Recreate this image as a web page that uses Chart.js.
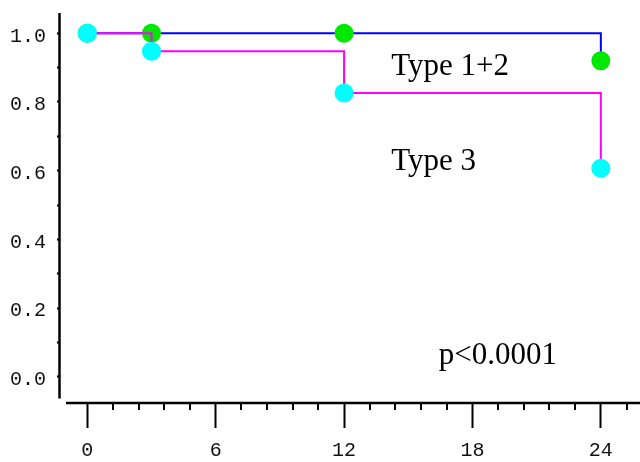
<!DOCTYPE html>
<html><head><meta charset="utf-8">
<script src="https://cdn.jsdelivr.net/npm/chart.js@4/dist/chart.umd.min.js"></script>
<style>html,body{margin:0;padding:0;background:#fff;}canvas{display:block;}</style>
</head><body>
<canvas id="c" width="640" height="462"></canvas>
<script>
// ---- data ----
const months = [0, 3, 12, 24];
const type12 = [1.0, 1.0, 1.0, 0.92];
const type3 = [1.0, 0.948, 0.826, 0.607];
const seriesNames = ['Type 1+2', 'Type 3'];
const pValueText = 'p<0.0001';
const xTickValues = [0, 6, 12, 18, 24];
const xTickLabels = ['0', '6', '12', '18', '24'];
const xMinorTickValues = [1.2, 2.4, 3.6, 4.8, 7.2, 8.4, 9.6, 10.8, 13.2, 14.4, 15.6, 16.8, 19.2, 20.4, 21.6, 22.8, 25.2];
const yTickValues = [0, 0.1, 0.2, 0.3, 0.4, 0.5, 0.6, 0.7, 0.8, 0.9, 1.0];
const yTickLabels = ['0.0', '', '0.2', '', '0.4', '', '0.6', '', '0.8', '', '1.0'];

// ---- annotation placement (data coords) ----
const notes = [
  {text: seriesNames[0], x: 14.2, y: 0.879},
  {text: seriesNames[1], x: 14.2, y: 0.601},
  {text: pValueText, x: 16.42, y: 0.038}
];

const pts = (ys) => months.map((m, i) => ({x: m, y: ys[i]}));

const axesPlugin = {
  id: 'axesPlugin',
  afterDraw(chart) {
    const ctx = chart.ctx, xs = chart.scales.x, ys = chart.scales.y, ca = chart.chartArea;
    ctx.save();
    ctx.strokeStyle = '#000';
    ctx.lineWidth = 2.5;
    ctx.beginPath();
    ctx.moveTo(ca.left - 0.5, ca.top);
    ctx.lineTo(ca.left - 0.5, ca.bottom - 4.5);
    ctx.stroke();
    ctx.lineWidth = 2.5;
    ctx.beginPath();
    ctx.moveTo(ca.left + 6, ca.bottom);
    ctx.lineTo(ca.right, ca.bottom);
    ctx.stroke();
    ctx.lineWidth = 2;
    xMinorTickValues.forEach(v => {
      const px = Math.round(xs.getPixelForValue(v));
      ctx.beginPath();
      ctx.moveTo(px, ca.bottom);
      ctx.lineTo(px, ca.bottom + 7);
      ctx.stroke();
    });
    ctx.fillStyle = '#000';
    ctx.font = '31px "Liberation Serif", "Times New Roman", serif';
    ctx.textAlign = 'left';
    ctx.textBaseline = 'alphabetic';
    notes.forEach(n => ctx.fillText(n.text, xs.getPixelForValue(n.x), ys.getPixelForValue(n.y)));
    ctx.restore();
  }
};

const noPad = (s) => { s.paddingTop = 0; s.paddingBottom = 0; s.paddingLeft = 0; s.paddingRight = 0; };

new Chart(document.getElementById('c'), {
  type: 'line',
  data: {
    datasets: [
      {
        label: seriesNames[1],
        data: pts(type3),
        stepped: 'before',
        borderColor: '#ff00ff',
        borderWidth: 2,
        pointRadius: 9.5,
        pointBorderWidth: 0,
        pointBackgroundColor: '#00ffff',
        pointBorderColor: '#00ffff',
        order: 1
      },
      {
        label: seriesNames[0],
        data: pts(type12),
        stepped: 'before',
        borderColor: '#0000ff',
        borderWidth: 2,
        pointRadius: 9.5,
        pointBorderWidth: 0,
        pointBackgroundColor: '#00e800',
        pointBorderColor: '#00e800',
        order: 2
      }
    ]
  },
  options: {
    responsive: false,
    animation: false,
    events: [],
    layout: {autoPadding: false, padding: {top: 13, right: 0, left: 0, bottom: 0}},
    plugins: {legend: {display: false}, tooltip: {enabled: false}},
    scales: {
      x: {
        type: 'linear',
        min: -1.276,
        max: 25.83,
        border: {display: false},
        grid: {drawOnChartArea: false, drawTicks: true, tickLength: 25, tickWidth: 2, tickColor: '#000'},
        afterBuildTicks: (s) => { s.ticks = xTickValues.map(v => ({value: v})); },
        afterFit: (s) => { s.height = 59; noPad(s); },
        ticks: {
          autoSkip: false,
          maxRotation: 0,
          padding: 11,
          color: '#111',
          font: {family: '"Liberation Mono", "Courier New", monospace', size: 20},
          callback: (v) => { const i = xTickValues.indexOf(v); return i >= 0 ? xTickLabels[i] : ''; }
        }
      },
      y: {
        type: 'linear',
        min: -0.0763,
        max: 1.0591,
        border: {display: false},
        grid: {drawOnChartArea: false, drawTicks: true, tickLength: 3, tickWidth: 2, tickColor: '#000'},
        afterBuildTicks: (s) => { s.ticks = yTickValues.map(v => ({value: v})); },
        afterFit: (s) => { s.width = 60; noPad(s); },
        ticks: {
          autoSkip: false,
          padding: 11,
          labelOffset: 3,
          color: '#111',
          font: {family: '"Liberation Mono", "Courier New", monospace', size: 20},
          callback: (v, i) => yTickLabels[i]
        }
      }
    }
  },
  plugins: [axesPlugin]
});
</script>
</body></html>
